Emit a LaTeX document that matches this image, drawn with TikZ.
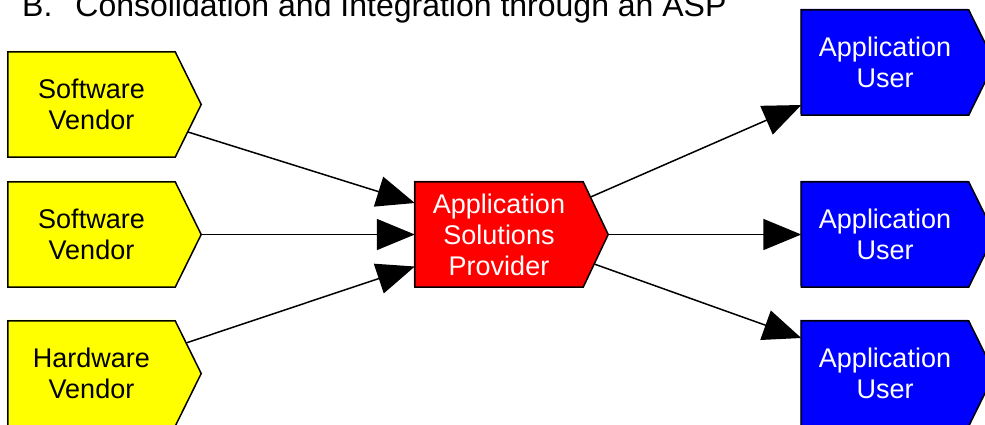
\documentclass[tikz,border=0pt]{standalone}
\usepackage{fontspec}
\setmainfont{Liberation Sans}
\usetikzlibrary{arrows.meta,calc,backgrounds}
\definecolor{boxyellow}{RGB}{255,255,0}
\definecolor{boxred}{RGB}{255,0,0}
\definecolor{boxblue}{RGB}{0,0,255}
\newcommand\pentapath[2]{(#1.north west) -- (#1.north east) -- ($(#1.east)+(#2,0)$) -- (#1.south east) -- (#1.south west) -- cycle}
\begin{document}
\begin{tikzpicture}[x=1pt,y=-1pt,
  box/.style={rectangle, minimum width=167pt, minimum height=105pt, inner sep=0pt, align=center,
              font=\fontsize{27}{31}\selectfont},
  vendor/.style={box, text=black},
  provider/.style={box, minimum width=168pt, text=white},
  user/.style={box, text=white},
  outline/.style={draw=black, line width=1.5pt, line join=miter},
  conn/.style={draw=black, line width=1.5pt, -{Triangle[length=38pt,width=31pt]}},
  title/.style={anchor=base west, inner sep=0pt, font=\fontsize{32}{38}\selectfont}
]
\useasboundingbox (0,0) rectangle (985,424);
\clip (0,0) rectangle (985,424);

% title
\node[title] (ttl) at (22,16) {B.\hspace{23pt}Consolidation and Integration through an ASP};

% nodes
\node[vendor] (v1) at (91.5,104.5) {Software\\Vendor};
\node[vendor] (v2) at (91.5,234.5) {Software\\Vendor};
\node[vendor] (v3) at (91.5,373.5) {Hardware\\Vendor};
\node[provider] (asp) at (499,234.5) {Application\\Solutions\\Provider};
\node[user] (u1) at (885,62.5) {Application\\User};
\node[user] (u2) at (885,234.5) {Application\\User};
\node[user] (u3) at (885,373.5) {Application\\User};

% shapes behind the texts
\begin{scope}[on background layer]
  \begin{scope}[transform canvas={shift={(-1pt,1pt)}}]
    \fill[boxyellow] \pentapath{v1}{26};
    \fill[boxyellow] \pentapath{v2}{26};
    \fill[boxyellow] \pentapath{v3}{26};
    \fill[boxred] \pentapath{asp}{25};
    \fill[boxblue] \pentapath{u1}{26};
    \fill[boxblue] \pentapath{u2}{26};
    \fill[boxblue] \pentapath{u3}{26};
  \end{scope}
  \filldraw[outline, fill=boxyellow] \pentapath{v1}{26};
  \filldraw[outline, fill=boxyellow] \pentapath{v2}{26};
  \filldraw[outline, fill=boxyellow] \pentapath{v3}{26};
  \filldraw[outline, fill=boxred] \pentapath{asp}{25};
  \filldraw[outline, fill=boxblue] \pentapath{u1}{26};
  \filldraw[outline, fill=boxblue] \pentapath{u2}{26};
  \filldraw[outline, fill=boxblue] \pentapath{u3}{26};
\end{scope}

% connection points
\coordinate (v1tip) at ($(v1.east)+(26,0)$);
\coordinate (v2tip) at ($(v2.east)+(26,0)$);
\coordinate (v3tip) at ($(v3.east)+(26,0)$);
\coordinate (asptip) at ($(asp.east)+(25,0)$);
\coordinate (v1out) at ($(v1tip)!0.52!(v1.south east)$);
\coordinate (v3out) at ($(v3tip)!0.58!(v3.north east)$);
\coordinate (aspin1) at ($(asp.west)+(0,-31.5)$);
\coordinate (aspin3) at ($(asp.west)+(0,32)$);
\coordinate (aspout1) at ($(asptip)!0.71!(asp.north east)$);
\coordinate (aspout3) at ($(asptip)!0.56!(asp.south east)$);
\coordinate (u1in) at ($(u1.west)+(0,42.5)$);
\coordinate (u3in) at ($(u3.west)+(0,-35.5)$);

% connectors
\draw[conn] (v1out) -- (aspin1);
\draw[conn] (v2tip) -- (asp.west);
\draw[conn] (v3out) -- (aspin3);
\draw[conn] (aspout1) -- (u1in);
\draw[conn] (asptip) -- (u2.west);
\draw[conn] (aspout3) -- (u3in);
\end{tikzpicture}
\end{document}
